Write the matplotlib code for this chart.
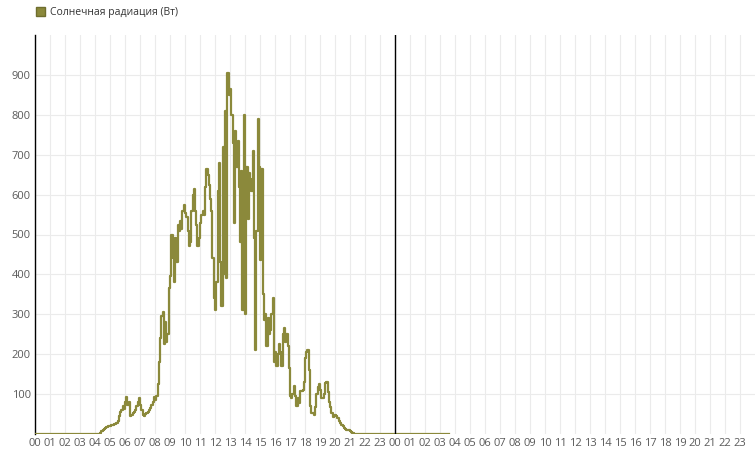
import matplotlib
matplotlib.use("Agg")
import matplotlib.pyplot as plt
import matplotlib.patches as mpatches
import numpy as np

# Solar radiation (W), 5-minute readings starting at 04:00 of day 1
START_HOUR = 4.0
STEP_HOURS = 5 / 60
radiation = [
    0, 0, 0, 0, 3, 8, 10, 13, 16, 18, 19, 20,                    # 04
    21, 22, 23, 24, 25, 27, 33, 45, 55, 60, 70, 62,              # 05
    80, 92, 72, 80, 45, 48, 52, 56, 60, 70, 80, 90,              # 06
    72, 60, 48, 44, 50, 52, 55, 60, 66, 72, 80, 92,              # 07
    85, 95, 125, 180, 240, 295, 305, 225, 280, 230, 250, 365,    # 08
    395, 500, 440, 380, 490, 430, 525, 510, 535, 515, 560, 575,  # 09
    555, 545, 510, 470, 480, 560, 600, 615, 560, 525, 470, 490,  # 10
    530, 550, 560, 550, 620, 665, 650, 625, 590, 560, 440, 340,  # 11
    310, 380, 610, 680, 430, 320, 720, 400, 810, 390, 905, 850,  # 12
    865, 800, 730, 530, 760, 670, 735, 620, 480, 660, 310, 800,  # 13
    300, 670, 540, 655, 640, 610, 710, 490, 210, 510, 790, 670,  # 14
    435, 665, 350, 285, 300, 220, 290, 250, 260, 300, 340, 180,  # 15
    205, 170, 200, 225, 205, 170, 250, 265, 230, 250, 220, 165,  # 16
    95, 90, 100, 120, 95, 70, 90, 78, 108, 108, 110, 130,        # 17
    190, 205, 210, 160, 70, 52, 52, 47, 68, 100, 118, 125,       # 18
    110, 90, 90, 100, 127, 130, 105, 80, 68, 52, 42, 45,         # 19
    47, 44, 40, 33, 27, 23, 20, 16, 12, 11, 10, 9,               # 20
    8, 6, 3, 0,                                                  # 21
]
DATA_END_HOUR = 27.6  # last reading, 03:36 of day 2

hour_labels = ["%02d" % h for h in range(24)] * 2
y_ticks = [100, 200, 300, 400, 500, 600, 700, 800, 900]

COLOR = "#8b893b"
plt.rcParams["font.family"] = ["Open Sans", "DejaVu Sans"]

t = START_HOUR + np.arange(len(radiation)) * STEP_HOURS
t = np.concatenate([[0.0], t, [DATA_END_HOUR]])
v = np.concatenate([[0], radiation, [0]])

fig = plt.figure(figsize=(7.55, 4.51), dpi=100)
ax = fig.add_axes([35 / 755, 1 - 434 / 451, 720 / 755, 399 / 451])

ax.plot(t, v, color=COLOR, lw=1.6, drawstyle="steps-post", zorder=3)
ax.axvline(24, color="black", lw=1, zorder=4)

ax.set_xlim(0, 48)
ax.set_ylim(0, 1000)
ax.set_xticks(range(48))
ax.set_xticklabels(hour_labels)
ax.set_yticks(y_ticks)
ax.tick_params(length=0, labelsize=8, colors="#5a5a5a", pad=3)
ax.grid(True, color="#ebebeb", lw=0.8)
ax.set_axisbelow(True)

for side in ["top", "right", "bottom"]:
    ax.spines[side].set_visible(False)
ax.spines["left"].set_color("black")
ax.spines["left"].set_linewidth(1)

# legend at the top-left
handle = mpatches.Patch(facecolor=COLOR, edgecolor="#6f6e2e", label="Солнечная радиация (Вт)")
fig.legend(handles=[handle], loc="upper left", bbox_to_anchor=(0.035, 1.005),
           frameon=False, fontsize=7.5, handlelength=0.9, handleheight=0.9,
           handletextpad=0.45, labelcolor="#333333")

fig.savefig("out.png", dpi=100)
